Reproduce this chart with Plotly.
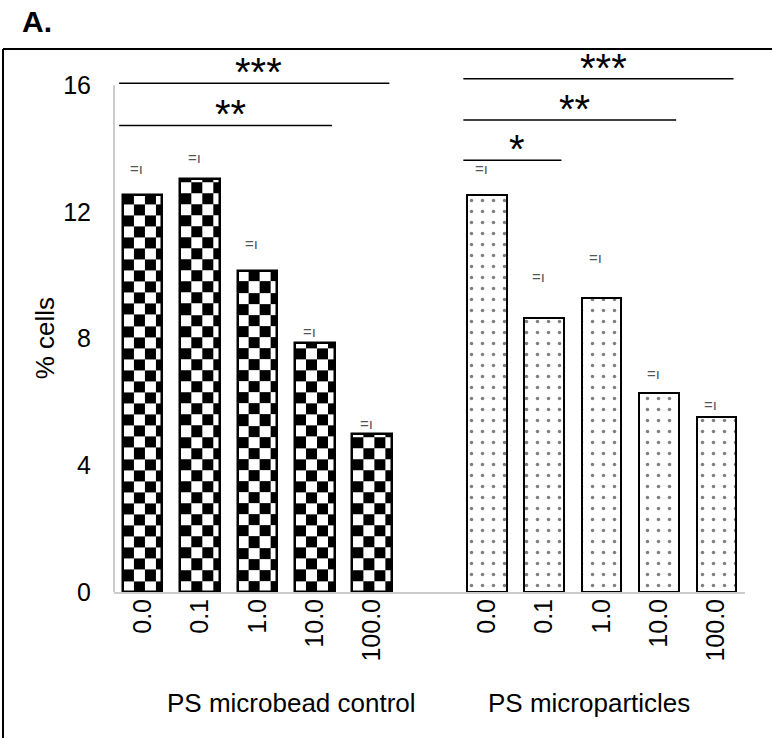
import plotly.graph_objects as go

# ---- data ----
conc_labels = ["0.0", "0.1", "1.0", "10.0", "100.0"]
control_vals = [12.52, 13.03, 10.13, 7.85, 4.98]
particle_vals = [12.52, 8.64, 9.27, 6.28, 5.52]
control_err = [0.86, 0.69, 0.87, 0.38, 0.35]
particle_err = [0.86, 1.33, 1.30, 0.62, 0.41]
group_names = ["PS microbead control", "PS microparticles"]
y_ticks = [0, 4, 8, 12, 16]
# significance brackets: (first index, last index, level, label)
sig_control = [(0, 4, 16.06, "***"), (0, 3, 14.73, "**")]
sig_particles = [(0, 4, 16.2, "***"), (0, 3, 14.9, "**"), (0, 1, 13.63, "*")]

FONT = "Arial, Liberation Sans"
ctrl_x = list(range(0, 5))
part_x = list(range(6, 11))
BW = 0.69

fig = go.Figure()

# checkerboard fill for control bars (heatmap bricks clipped to bar extent)
cw, ch = 0.19, 0.35
for cx, v in zip(ctrl_x, control_vals):
    left, right = cx - BW / 2, cx + BW / 2
    xe = [left]
    while xe[-1] + cw < right - 0.02:
        xe.append(xe[-1] + cw)
    xe.append(right)
    ye = [0.0]
    while ye[-1] + ch < v - 0.05:
        ye.append(ye[-1] + ch)
    ye.append(v)
    z = [[(i + j) % 2 for j in range(len(xe) - 1)] for i in range(len(ye) - 1)]
    fig.add_trace(go.Heatmap(x=xe, y=ye, z=z, zmin=0, zmax=1,
                             colorscale=[[0, "white"], [1, "black"]],
                             showscale=False, hoverinfo="skip"))

fig.add_trace(go.Bar(x=ctrl_x, y=control_vals, width=BW,
                     marker=dict(color="rgba(0,0,0,0)", line=dict(color="black", width=2.5)),
                     showlegend=False))
fig.add_trace(go.Bar(x=part_x, y=particle_vals, width=BW,
                     marker=dict(color="white", line=dict(color="black", width=2),
                                 pattern=dict(shape=".", fgcolor="black", bgcolor="white",
                                              size=11, solidity=0.08, fillmode="overlay")),
                     showlegend=False))

annotations = []
shapes = []

# small error marks
for xs, vals, errs in [(ctrl_x, control_vals, control_err), (part_x, particle_vals, particle_err)]:
    for cx, v, e in zip(xs, vals, errs):
        annotations.append(dict(x=cx - 0.1, y=v + e, xref="x", yref="y", text="=ı",
                                showarrow=False, font=dict(family=FONT, size=15, color="#555")))

# significance brackets
for xs, sigs in [(ctrl_x, sig_control), (part_x, sig_particles)]:
    for a, b, lvl, lab in sigs:
        x0 = xs[a] - 0.41
        x1 = xs[b] + 0.3
        shapes.append(dict(type="line", xref="x", yref="y", x0=x0, x1=x1, y0=lvl, y1=lvl,
                           line=dict(color="black", width=1.5)))
        annotations.append(dict(x=(x0 + x1) / 2 + 0.08, y=lvl, xref="x", yref="y", text=lab,
                                showarrow=False, yanchor="bottom", yshift=-13,
                                font=dict(family=FONT, size=40, color="black")))

# group labels
annotations.append(dict(x=2.6, y=-0.242, xref="x", yref="paper", text=group_names[0],
                        showarrow=False, font=dict(family=FONT, size=26, color="black")))
annotations.append(dict(x=7.78, y=-0.242, xref="x", yref="paper", text=group_names[1],
                        showarrow=False, font=dict(family=FONT, size=26, color="black")))

# faint marks by the axis
annotations.append(dict(x=-0.62, y=0.008, xref="x", yref="paper", text="ıı", showarrow=False,
                        font=dict(family=FONT, size=10, color="#bbb")))
annotations.append(dict(x=-0.62, y=-0.155, xref="x", yref="paper", text="ıı", showarrow=False,
                        font=dict(family=FONT, size=10, color="#bbb")))

# y title
annotations.append(dict(x=-0.109, y=0.48, xref="paper", yref="paper", text="% cells",
                        textangle=-90, showarrow=False, xanchor="center", yanchor="middle",
                        font=dict(family=FONT, size=26, color="black")))

# y axis line (0..16)
shapes.append(dict(type="line", xref="paper", yref="y", x0=0, x1=0, y0=0, y1=16,
                   line=dict(color="#cccccc", width=2)))
# outer frame (left and top edges)
shapes.append(dict(type="line", xref="paper", yref="paper", x0=-0.1759, x1=-0.1759,
                   y0=-0.3, y1=1.0265, line=dict(color="black", width=2)))
shapes.append(dict(type="line", xref="paper", yref="paper", x0=-0.1759, x1=1.1,
                   y0=1.0265, y1=1.0265, line=dict(color="black", width=2)))

fig.update_layout(
    width=772, height=738,
    margin=dict(l=114, r=27, t=63, b=146),
    paper_bgcolor="white", plot_bgcolor="white",
    showlegend=False, bargap=0,
    font=dict(family=FONT, size=26, color="black"),
    title=dict(text="<b>A.</b>", xref="container", yref="container", x=22 / 772,
               y=1 - 21 / 738, xanchor="left", yanchor="middle",
               font=dict(family=FONT, size=30, color="black")),
    xaxis=dict(range=[-0.5, 10.5], tickmode="array", tickvals=ctrl_x + part_x,
               ticktext=conc_labels + conc_labels, tickangle=-90, ticks="",
               showline=True, linecolor="#cccccc", linewidth=2, showgrid=False,
               zeroline=False, ticklabelstandoff=-5,
               tickfont=dict(family=FONT, size=25, color="black")),
    yaxis=dict(range=[0, 16.7], tickmode="array", tickvals=y_ticks, ticks="",
               showline=False, showgrid=False, zeroline=False, ticklabelstandoff=22,
               tickfont=dict(family=FONT, size=25, color="black")),
    annotations=annotations, shapes=shapes,
)

fig.write_html("out.html")
